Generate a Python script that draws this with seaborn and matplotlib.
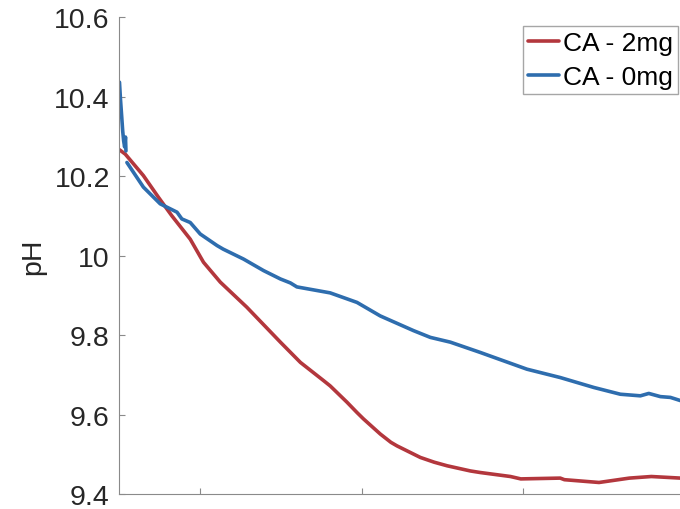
import numpy as np
import pandas as pd
import matplotlib
matplotlib.use('Agg')
import matplotlib.pyplot as plt
import seaborn as sns

# CA - 2mg (red)
red_x = [250, 268, 324, 371, 412, 469, 510, 562, 644, 748, 810, 882, 902, 954, 985, 1005,
         1057, 1090, 1109, 1181, 1224, 1264, 1336, 1367, 1460, 1492, 1614, 1627, 1734,
         1828, 1896, 1986]
red_y = [10.266, 10.255, 10.201, 10.146, 10.100, 10.041, 9.983, 9.933, 9.870, 9.782, 9.731,
         9.685, 9.672, 9.631, 9.605, 9.589, 9.551, 9.530, 9.521, 9.492, 9.480, 9.471, 9.458,
         9.454, 9.444, 9.438, 9.440, 9.436, 9.429, 9.440, 9.444, 9.440]

# CA - 0mg (blue), first short piece before the break
blue0_x = [250, 253, 257, 260, 263, 266, 268.6, 270]
blue0_y = [10.436, 10.394, 10.348, 10.313, 10.288, 10.273, 10.298, 10.263]

blue_x = [273, 324, 376, 428, 443, 469, 500, 552, 571, 634, 696, 748, 779, 799, 902, 985,
          1057, 1160, 1212, 1274, 1367, 1408, 1511, 1614, 1718, 1800, 1862, 1888, 1924,
          1955, 1986]
blue_y = [10.234, 10.172, 10.130, 10.109, 10.092, 10.083, 10.054, 10.025, 10.016, 9.991,
          9.962, 9.941, 9.931, 9.921, 9.906, 9.882, 9.848, 9.811, 9.794, 9.782, 9.756,
          9.744, 9.714, 9.693, 9.668, 9.651, 9.647, 9.653, 9.645, 9.643, 9.635]

yticks = [9.4, 9.6, 9.8, 10.0, 10.2, 10.4, 10.6]
ytick_labels = ['9.4', '9.6', '9.8', '10', '10.2', '10.4', '10.6']
xticks = [500, 1000, 1500]

red = '#B3373D'
blue = '#2E6DAE'
txt = '#262626'
axis_col = '#8a8a8a'

sns.set_style('white')
plt.rcParams['font.family'] = ['Liberation Sans', 'DejaVu Sans']

fig = plt.figure(figsize=(6.8, 5.1), dpi=100)
ax = fig.add_axes([0.1757, 0.0294, 0.8316, 0.9353])

sns.lineplot(x=red_x, y=red_y, color=red, lw=2.6, estimator=None, sort=False,
             label='CA - 2mg', ax=ax)
sns.lineplot(x=blue0_x, y=blue0_y, color=blue, lw=2.6, estimator=None, sort=False,
             label='_nolegend_', ax=ax)
sns.lineplot(x=blue_x, y=blue_y, color=blue, lw=2.6, estimator=None, sort=False,
             label='CA - 0mg', ax=ax)

ax.set_xlim(250, 2000)
ax.set_ylim(9.4, 10.6)
ax.set_xticks(xticks)
ax.set_xticklabels([])
ax.set_yticks(yticks)
ax.set_yticklabels(ytick_labels)
ax.tick_params(axis='both', direction='in', length=4.5, width=0.8, color=axis_col,
               labelsize=20.5, labelcolor=txt, pad=7)
ax.tick_params(axis='x', bottom=True)
ax.tick_params(axis='y', left=True)
for s in ['top', 'right']:
    ax.spines[s].set_visible(False)
for s in ['left', 'bottom']:
    ax.spines[s].set_color(axis_col)
    ax.spines[s].set_linewidth(0.8)
ax.set_xlabel('')
ax.set_ylabel('pH', fontsize=20.5, color=txt, labelpad=6)

leg = ax.legend(loc='upper left', bbox_to_anchor=(0.769, 0.947), bbox_transform=fig.transFigure,
                fontsize=19, handlelength=1.15, handletextpad=0.15, borderpad=0.2,
                labelspacing=0.36, borderaxespad=0, fancybox=False, framealpha=1)
leg.get_frame().set_edgecolor('#a6a6a6')
leg.get_frame().set_linewidth(1.0)
for t in leg.get_texts():
    t.set_color('black')

fig.savefig('out.png', dpi=100)
